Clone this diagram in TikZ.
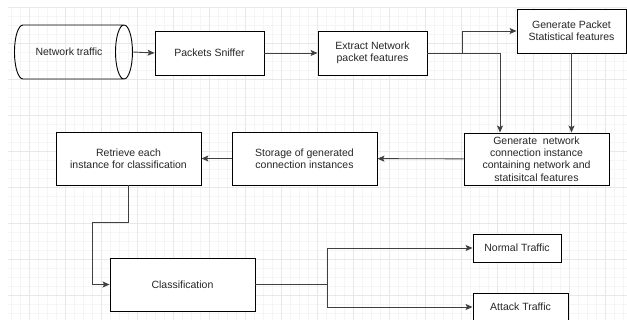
\documentclass[tikz,border=0pt]{standalone}
\usepackage{fontspec}
\setmainfont{Liberation Sans}
\usetikzlibrary{shapes.geometric,arrows.meta}
\tikzset{
  box/.style={draw=black, line width=0.9pt, fill=white, align=center, inner sep=1pt,
    text=black!85, font=\fontsize{10.5}{12.4}\selectfont},
  arr/.style={draw=black!75, line width=0.9pt, -{Stealth[length=7pt,width=6pt,inset=1.5pt]}},
  line/.style={draw=black!75, line width=0.9pt}
}
\begin{document}
\begin{tikzpicture}[x=1pt, y=-1pt]
\useasboundingbox (0,0) rectangle (627,320);
\fill[white] (0,0) rectangle (627,320);
% background grid
\begin{scope}
\clip (8,8) rectangle (627,320);
\foreach \x in {2,11,...,627} {\draw[black!4, line width=0.6pt] (\x,0) -- (\x,320);}
\foreach \y in {7.7,16.7,...,320} {\draw[black!4, line width=0.6pt] (0,\y) -- (627,\y);}
\foreach \x in {29,65,...,627} {\draw[black!9, line width=0.6pt] (\x,0) -- (\x,320);}
\foreach \y in {7.7,43.7,...,320} {\draw[black!9, line width=0.6pt] (0,\y) -- (627,\y);}
\end{scope}
% first row
\node[cylinder, draw=black, line width=0.9pt, minimum height=118pt, minimum width=54pt,
  aspect=2.2, inner sep=0pt, text=black!85, font=\fontsize{10.5}{12.4}\selectfont]
  (traffic) at (69,52) {Network traffic};
\node[box, minimum width=109pt, minimum height=44pt] (sniffer) at (209.5,53) {Packets Sniffer};
\node[box, minimum width=109pt, minimum height=44pt] (extract) at (372.5,53) {Extract Network\\packet features};
\node[box, minimum width=109pt, minimum height=44pt] (genpkt) at (571.5,31) {Generate Packet\\Statistical features};
% second row
\node[box, minimum width=145pt, minimum height=52pt] (genconn) at (536.5,159)
  {Generate\ \ network\\connection instance\\containing network and\\statisitcal features};
\node[box, minimum width=145pt, minimum height=53pt] (storage) at (304.5,158.5) {Storage of generated\\connection instances};
\node[box, minimum width=145pt, minimum height=53pt] (retrieve) at (128.5,158.5) {Retrieve each\\instance for classification};
% third row
\node[box, minimum width=145pt, minimum height=53pt] (classif) at (182.5,284.5) {Classification};
\node[box, minimum width=88pt, minimum height=28pt] (normal) at (517,248) {Normal Traffic};
\node[box, minimum width=95pt, minimum height=28pt] (attack) at (520.5,307) {Attack Traffic};
% connectors
\coordinate (split1) at (462,53);
\coordinate (bend) at (92,222);
\coordinate (split2) at (327,284.5);
\draw[arr] (traffic.east) -- (sniffer.west);
\draw[arr] (sniffer) -- (extract);
\draw[line] (extract.east) -- (split1);
\draw[arr] (split1) |- (genpkt.west);
\draw[arr] (split1) -| ([xshift=-36.5pt]genconn.north);
\draw[arr] (genpkt.south) -- (genpkt.south |- genconn.north);
\draw[arr] (genconn) -- (storage);
\draw[arr] (storage) -- (retrieve);
\draw[line] (retrieve.south) |- (bend);
\draw[arr] (bend) |- (classif.west);
\draw[line] (classif.east) -- (split2);
\draw[arr] (split2) |- (normal.west);
\draw[arr] (split2) |- (attack.west);
\end{tikzpicture}
\end{document}
